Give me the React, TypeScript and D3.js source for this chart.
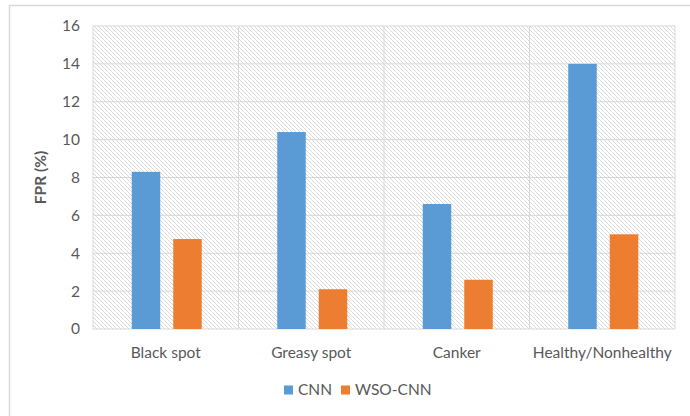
import React from "react";
import * as d3 from "d3";

const categories = ["Black spot", "Greasy spot", "Canker", "Healthy/Nonhealthy"];
const seriesNames = ["CNN", "WSO-CNN"];
const cnnValues = [8.3, 10.4, 6.6, 14.0];
const wsoValues = [4.75, 2.1, 2.6, 5.0];
const yTicks = [0, 2, 4, 6, 8, 10, 12, 14, 16];
const colors = ["#5b9bd5", "#ed7d31"];

const W = 690, H = 416;
const plot = { left: 93, right: 675, top: 26, bottom: 329 };
const FONT = "Lato, 'Open Sans', sans-serif";
const FS = 15.5;

export default function App() {
  const x = d3.scaleBand<string>().domain(categories).range([plot.left, plot.right]).padding(0);
  const y = d3.scaleLinear().domain([0, 16]).range([plot.bottom, plot.top]);
  const barW = 28.5;
  const gap = 13;
  const series = [cnnValues, wsoValues];
  return (
    <svg width={W} height={H} style={{ position: "absolute", left: 0, top: 0 }} fontFamily={FONT}>
      <defs>
        <pattern id="hatch" patternUnits="userSpaceOnUse" width="4" height="4">
          <rect width="4" height="4" fill="#ffffff" />
          <path d="M-1,-1 L5,5 M-1,3 L1,5 M3,-1 L5,1" stroke="#dadada" strokeWidth="1" />
        </pattern>
      </defs>
      <rect x={0} y={0} width={W} height={H} fill="#ffffff" />
      <rect x={9.5} y={5.5} width={W + 10} height={H + 10} fill="none" stroke="#d9d9d9" strokeWidth={1.5} />
      <rect x={plot.left} y={plot.top} width={plot.right - plot.left} height={plot.bottom - plot.top} fill="url(#hatch)" />
      {yTicks.map((t) => (
        <line key={"g" + t} x1={plot.left} x2={plot.right} y1={y(t)} y2={y(t)} stroke="#d9d9d9" strokeWidth={1} />
      ))}
      {categories.map((c) => (
        <line key={"v" + c} x1={x(c)!} x2={x(c)!} y1={plot.top} y2={plot.bottom} stroke="#d9d9d9" strokeWidth={1} />
      ))}
      <line x1={plot.right} x2={plot.right} y1={plot.top} y2={plot.bottom} stroke="#d9d9d9" strokeWidth={1} />
      {categories.map((c, i) => {
        const cx = x(c)! + x.bandwidth() / 2 + 1;
        return series.map((vals, s) => {
          const bx = s === 0 ? cx - gap / 2 - barW : cx + gap / 2;
          return (
            <rect key={c + s} x={bx} y={y(vals[i])} width={barW} height={y(0) - y(vals[i])} fill={colors[s]} />
          );
        });
      })}
      {yTicks.map((t) => (
        <text key={"t" + t} x={80} y={y(t)} dy="0.35em" textAnchor="end" fontSize={FS} fill="#595959">{t}</text>
      ))}
      {categories.map((c) => (
        <text key={"c" + c} x={x(c)! + x.bandwidth() / 2} y={353} dy="0.35em" textAnchor="middle" fontSize={FS} fill="#595959">{c}</text>
      ))}
      <text transform={`translate(41,${(plot.top + plot.bottom) / 2}) rotate(-90)`} textAnchor="middle" dy="0.35em" fontSize={FS} fontWeight="bold" fill="#595959">FPR (%)</text>
      {seriesNames.map((n, i) => {
        const lx = i === 0 ? 284 : 341;
        return (
          <g key={n}>
            <rect x={lx} y={385.5} width={9} height={9} fill={colors[i]} />
            <text x={lx + 14} y={390} dy="0.35em" fontSize={FS} fill="#595959">{n}</text>
          </g>
        );
      })}
    </svg>
  );
}
